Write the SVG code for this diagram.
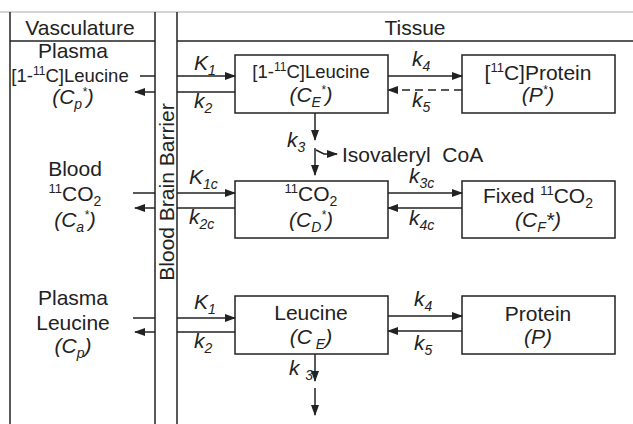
<svg xmlns="http://www.w3.org/2000/svg" width="633" height="424" viewBox="0 0 633 424">
<defs>
<style>
.t{font-family:"Liberation Sans",Arial,sans-serif;font-size:21px;fill:#222;text-anchor:middle}
.s{font-size:18.5px}
.l{text-anchor:start}
.i{font-style:italic}
.ln{stroke:#222;stroke-width:1.5;fill:none}
.bx{fill:#fff;stroke:#222;stroke-width:1.5}
.ar{marker-end:url(#ah)}
.da{stroke-dasharray:8 5}
</style>
<marker id="ah" markerUnits="userSpaceOnUse" markerWidth="11" markerHeight="8" refX="10" refY="4" orient="auto">
<path d="M0,0 L11,4 L0,8 z" fill="#222"/>
</marker>
</defs>
<rect width="633" height="424" fill="#fff"/>
<g id="frame">
<line x1="0" y1="12" x2="633" y2="12" stroke="#aaa" stroke-width="1.2"/>
<line class="ln" x1="10" y1="12" x2="10" y2="424"/>
<line class="ln" x1="155" y1="12" x2="155" y2="424"/>
<line class="ln" x1="177" y1="12" x2="177" y2="424"/>
<line class="ln" x1="10" y1="41" x2="155" y2="41"/>
<line class="ln" x1="177" y1="41" x2="633" y2="41"/>
<text class="t" x="80" y="35">Vasculature</text>
<text class="t" x="415" y="35">Tissue</text>
<text class="t" transform="translate(174,192) rotate(-90)">Blood Brain Barrier</text>
</g>
<g id="plasma-tracer">
<text class="t" x="73" y="58">Plasma</text>
<text class="t s" x="70" y="82">[1-<tspan font-size="12" dy="-7">11</tspan><tspan dy="7">C]Leucine</tspan></text>
<text class="t i" x="73" y="104">(C<tspan font-size="14" dy="5">p</tspan><tspan font-size="12" dy="-13">*</tspan><tspan dy="8">)</tspan></text>
</g>
<g id="blood-co2">
<text class="t" x="75" y="176">Blood</text>
<text class="t" x="75" y="201"><tspan font-size="13" dy="-8">11</tspan><tspan dy="8">CO</tspan><tspan font-size="14" dy="5">2</tspan></text>
<text class="t i" x="75" y="227">(C<tspan font-size="14" dy="5">a</tspan><tspan font-size="12" dy="-13">*</tspan><tspan dy="8">)</tspan></text>
</g>
<g id="plasma-leucine">
<text class="t" x="73" y="305">Plasma</text>
<text class="t" x="73" y="330">Leucine</text>
<text class="t i" x="73" y="353">(C<tspan font-size="14" dy="5">p</tspan><tspan dy="-5">)</tspan></text>
</g>
<g id="tissue-tracer">
<rect class="bx" x="235" y="55" width="153" height="58"/>
<text class="t s" x="311" y="78">[1-<tspan font-size="12" dy="-7">11</tspan><tspan dy="7">C]Leucine</tspan></text>
<text class="t i" x="311" y="102">(C<tspan font-size="14" dy="5">E</tspan><tspan font-size="12" dy="-13">*</tspan><tspan dy="8">)</tspan></text>
</g>
<g id="protein-tracer">
<rect class="bx" x="462" y="55" width="153" height="58"/>
<text class="t" x="538" y="80">[<tspan font-size="13" dy="-8">11</tspan><tspan dy="8">C]Protein</tspan></text>
<text class="t i" x="538" y="102">(P<tspan font-size="12" dy="-8">*</tspan><tspan dy="8">)</tspan></text>
</g>
<g id="tissue-co2">
<rect class="bx" x="235" y="181" width="153" height="57"/>
<text class="t" x="311" y="201"><tspan font-size="13" dy="-8">11</tspan><tspan dy="8">CO</tspan><tspan font-size="14" dy="5">2</tspan></text>
<text class="t i" x="311" y="227">(C<tspan font-size="14" dy="5">D</tspan><tspan font-size="12" dy="-13">*</tspan><tspan dy="8">)</tspan></text>
</g>
<g id="fixed-co2">
<rect class="bx" x="462" y="181" width="153" height="57"/>
<text class="t" x="538" y="203">Fixed <tspan font-size="13" dy="-8">11</tspan><tspan dy="8">CO</tspan><tspan font-size="14" dy="5">2</tspan></text>
<text class="t i" x="538" y="227">(C<tspan font-size="14" dy="5">F</tspan><tspan dy="-5">*)</tspan></text>
</g>
<g id="tissue-leucine">
<rect class="bx" x="235" y="296" width="153" height="58"/>
<text class="t" x="311" y="320">Leucine</text>
<text class="t i" x="311" y="344">(C<tspan font-size="14" dy="5"> E</tspan><tspan dy="-5">)</tspan></text>
</g>
<g id="protein">
<rect class="bx" x="462" y="296" width="153" height="58"/>
<text class="t" x="538" y="321">Protein</text>
<text class="t i" x="538" y="344">(P)</text>
</g>
<g id="isovaleryl">
<text class="t l" x="342" y="162" xml:space="preserve">Isovaleryl  CoA</text>
</g>
<g id="connectors">
<line class="ln" x1="140" y1="76" x2="155" y2="76"/>
<line class="ln ar" x1="177" y1="76" x2="235" y2="76"/>
<line class="ln" x1="235" y1="92" x2="177" y2="92"/>
<line class="ln ar" x1="155" y1="92" x2="135" y2="92"/>
<line class="ln ar" x1="388" y1="76" x2="462" y2="76"/>
<line class="ln ar da" x1="462" y1="90" x2="388" y2="90"/>
<line class="ln ar" x1="315" y1="113" x2="315" y2="140"/>
<line class="ln ar" x1="315" y1="148" x2="315" y2="175"/>
<path class="ln ar" d="M316,150 L324,154 L337,154"/>
<line class="ln" x1="133" y1="193" x2="155" y2="193"/>
<line class="ln ar" x1="177" y1="193" x2="235" y2="193"/>
<line class="ln" x1="235" y1="208" x2="177" y2="208"/>
<line class="ln ar" x1="155" y1="208" x2="135" y2="208"/>
<line class="ln ar" x1="388" y1="193" x2="462" y2="193"/>
<line class="ln ar" x1="462" y1="208" x2="388" y2="208"/>
<line class="ln" x1="133" y1="318" x2="155" y2="318"/>
<line class="ln ar" x1="177" y1="318" x2="235" y2="318"/>
<line class="ln" x1="235" y1="332" x2="177" y2="332"/>
<line class="ln ar" x1="155" y1="332" x2="135" y2="332"/>
<line class="ln ar" x1="388" y1="316" x2="462" y2="316"/>
<line class="ln ar" x1="462" y1="331" x2="388" y2="331"/>
<line class="ln ar" x1="315" y1="354" x2="315" y2="381"/>
<line class="ln ar" x1="315" y1="388" x2="315" y2="415"/>
</g>
<g id="rate-labels">
<text class="t i l" x="194" y="70">K<tspan font-size="14" dy="5">1</tspan></text>
<text class="t i l" x="194" y="108">k<tspan font-size="14" dy="5">2</tspan></text>
<text class="t i l" x="412" y="66">k<tspan font-size="14" dy="5">4</tspan></text>
<text class="t i l" x="412" y="107">k<tspan font-size="14" dy="5">5</tspan></text>
<text class="t i l" x="287" y="147">k<tspan font-size="14" dy="5">3</tspan></text>
<text class="t i l" x="189" y="184">K<tspan font-size="14" dy="5">1c</tspan></text>
<text class="t i l" x="189" y="224">k<tspan font-size="14" dy="5">2c</tspan></text>
<text class="t i l" x="409" y="183">k<tspan font-size="14" dy="5">3c</tspan></text>
<text class="t i l" x="409" y="225">k<tspan font-size="14" dy="5">4c</tspan></text>
<text class="t i l" x="194" y="309">K<tspan font-size="14" dy="5">1</tspan></text>
<text class="t i l" x="194" y="348">k<tspan font-size="14" dy="5">2</tspan></text>
<text class="t i l" x="414" y="306">k<tspan font-size="14" dy="5">4</tspan></text>
<text class="t i l" x="414" y="350">k<tspan font-size="14" dy="5">5</tspan></text>
<text class="t i l" x="289" y="375">k <tspan font-size="14" dy="5">3</tspan></text>
</g>
</svg>
